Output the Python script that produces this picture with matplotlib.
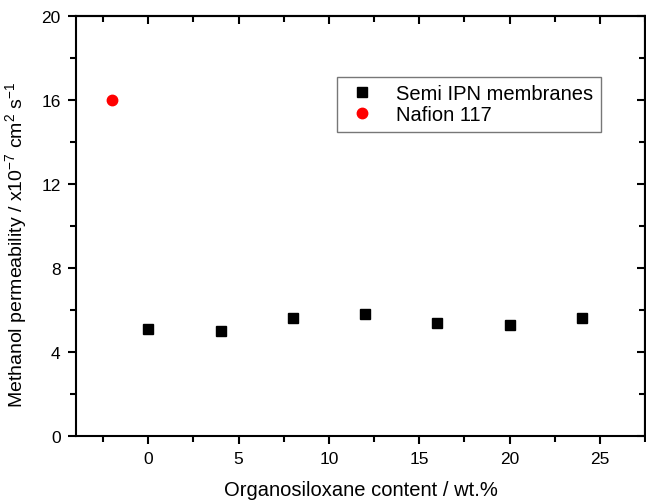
import matplotlib
matplotlib.use("Agg")
import matplotlib.pyplot as plt
from matplotlib.ticker import MultipleLocator

plt.rcParams['font.family'] = ['Liberation Sans', 'DejaVu Sans']
plt.rcParams['mathtext.fontset'] = 'custom'
plt.rcParams['mathtext.rm'] = 'Liberation Sans'
plt.rcParams['mathtext.it'] = 'Liberation Sans:italic'

semi_x = [0, 4, 8, 12, 16, 20, 24]
semi_y = [5.1, 5.0, 5.6, 5.8, 5.4, 5.3, 5.6]
nafion_x = [-2]
nafion_y = [16.0]

fig = plt.figure(figsize=(6.46, 5.02), dpi=100)
ax = fig.add_axes([76/646, (502-437)/502, (645-76)/646, (437-17)/502])

ax.plot(semi_x, semi_y, 's', color='black', markersize=6.5, linestyle='none',
        label='Semi IPN membranes')
ax.plot(nafion_x, nafion_y, 'o', color='red', markersize=7.5, linestyle='none',
        label='Nafion 117')

ax.set_xlim(-4, 27.5)
ax.set_ylim(0, 20)
ax.xaxis.set_major_locator(MultipleLocator(5))
ax.xaxis.set_minor_locator(MultipleLocator(2.5))
ax.yaxis.set_major_locator(MultipleLocator(4))
ax.yaxis.set_minor_locator(MultipleLocator(2))

for s in ax.spines.values():
    s.set_linewidth(1.5)

ax.tick_params(which='both', bottom=True, left=True, top=False, right=False,
               direction='out', width=1.5, labelsize=12.5)
ax.tick_params(which='major', length=6, pad=5)
ax.tick_params(which='minor', length=4)

# inward ticks on top and right
sec_x = ax.secondary_xaxis('top')
sec_x.xaxis.set_major_locator(MultipleLocator(5))
sec_x.xaxis.set_minor_locator(MultipleLocator(2.5))
sec_x.tick_params(which='both', direction='in', width=1.5, labeltop=False)
sec_x.tick_params(which='major', length=6)
sec_x.tick_params(which='minor', length=4)
sec_x.spines['top'].set_linewidth(1.5)
sec_y = ax.secondary_yaxis('right')
sec_y.yaxis.set_major_locator(MultipleLocator(4))
sec_y.yaxis.set_minor_locator(MultipleLocator(2))
sec_y.tick_params(which='both', direction='in', width=1.5, labelright=False)
sec_y.tick_params(which='major', length=6)
sec_y.tick_params(which='minor', length=4)
sec_y.spines['right'].set_linewidth(1.5)

ax.set_xlabel('Organosiloxane content / wt.%', fontsize=14.5, labelpad=10)
ax.set_ylabel(r'Methanol permeability / x10$^{-7}$ cm$^{2}$ s$^{-1}$', fontsize=14)
ax.yaxis.set_label_coords(-0.082, (437 - 244.5) / 420)

leg = ax.legend(loc='upper left', bbox_to_anchor=((337-76)/569, (437-78)/420),
                fontsize=14.5, frameon=True, fancybox=False, edgecolor='#555555',
                handletextpad=0.8, borderpad=0.35, labelspacing=0.12, handlelength=1.8,
                borderaxespad=0)
leg.get_frame().set_linewidth(1.0)

fig.savefig('out.png', dpi=100)
